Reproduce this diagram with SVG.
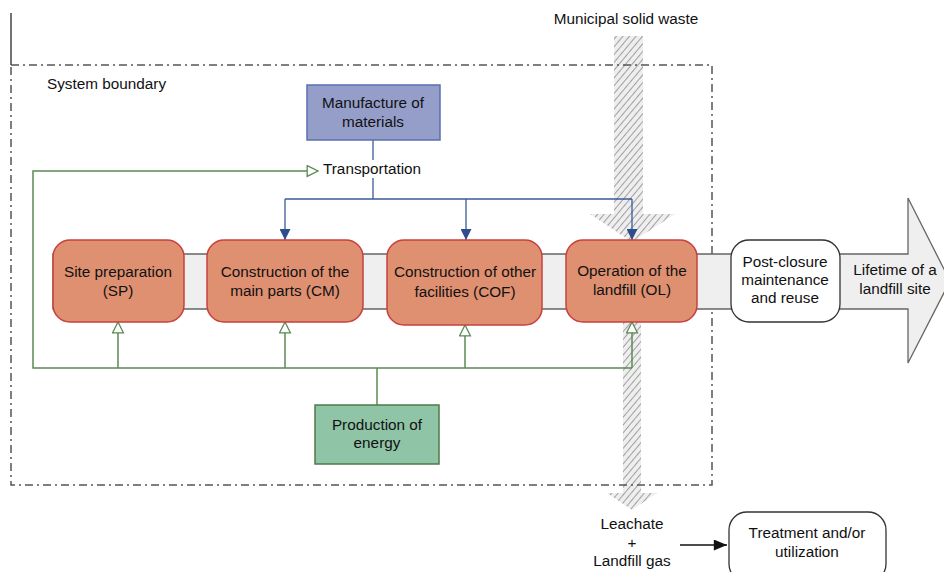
<svg xmlns="http://www.w3.org/2000/svg" width="944" height="572" viewBox="0 0 944 572">
<defs>
<pattern id="hatch" patternUnits="userSpaceOnUse" width="5" height="5" patternTransform="rotate(40)">
<rect width="5" height="5" fill="#eeeeee"/>
<line x1="0" y1="0" x2="0" y2="5" stroke="#8c8c8c" stroke-width="1.6"/>
</pattern>
<marker id="blueArrow" viewBox="0 0 10 10" refX="10" refY="5" markerWidth="11" markerHeight="11" markerUnits="userSpaceOnUse" orient="auto">
<path d="M0,0 L10,5 L0,10 z" fill="#2e4d8c"/>
</marker>
<marker id="greenArrow" viewBox="0 0 12 12" refX="11" refY="6" markerWidth="13" markerHeight="13" markerUnits="userSpaceOnUse" orient="auto">
<path d="M1,1 L11,6 L1,11 z" fill="#fff" stroke="#5b8a52" stroke-width="1.2"/>
</marker>
<marker id="blackArrow" viewBox="0 0 12 10" refX="12" refY="5" markerWidth="14" markerHeight="11" markerUnits="userSpaceOnUse" orient="auto">
<path d="M0,0 L12,5 L0,10 z" fill="#111"/>
</marker>
</defs>
<style>
text{font-family:"Liberation Sans",Arial,sans-serif;font-size:15.3px;fill:#111;text-anchor:middle}
.stage{fill:#de9070;stroke:#c9403f;stroke-width:1.5}
.white{fill:#fff;stroke:#333;stroke-width:1.3}
.blue{stroke:#3a5a9a;stroke-width:1.3;fill:none}
.green{stroke:#5b8a52;stroke-width:1.5;fill:none}
.boundary{fill:none;stroke:#555;stroke-width:1.5;stroke-dasharray:8 4 2 4}
</style>

<!-- hatched flows -->
<g id="msw-flow">
<path d="M614,36 L643,36 L643,214 L675,214 L632,242 L590,214 L614,214 z" fill="url(#hatch)"/>
<path d="M623,322 L641,322 L641,493 L657,493 L632,510 L607,493 L623,493 z" fill="url(#hatch)"/>
</g>

<!-- left solid line and boundary -->
<line x1="11" y1="13" x2="11" y2="65" stroke="#444" stroke-width="1.5"/>
<g id="system-boundary">
<rect x="11" y="65" width="701" height="420" class="boundary"/>
<text x="47" y="89" style="text-anchor:start">System boundary</text>
</g>

<!-- lifetime arrow -->
<g id="lifetime">
<path d="M53,254 L908,254 L908,198 L950,281 L908,363 L908,309 L53,309 z" fill="#efefef" stroke="#666" stroke-width="1.3"/>
<text x="895" y="275">Lifetime of a</text>
<text x="895" y="294">landfill site</text>
</g>

<g id="connectors">
<line class="blue" x1="373" y1="140" x2="373" y2="160"/>
<polyline class="blue" points="373,178 373,199"/>
<line class="blue" x1="285" y1="199" x2="632" y2="199"/>
<line class="blue" x1="285" y1="199" x2="285" y2="240" marker-end="url(#blueArrow)"/>
<line class="blue" x1="466" y1="199" x2="466" y2="240" marker-end="url(#blueArrow)"/>
<line class="blue" x1="632" y1="199" x2="632" y2="240" marker-end="url(#blueArrow)"/>
<line class="green" x1="377" y1="368" x2="377" y2="405"/>
<polyline class="green" points="632,368 33,368 33,171 318,171" marker-end="url(#greenArrow)"/>
<line class="green" x1="118" y1="368" x2="118" y2="322" marker-end="url(#greenArrow)"/>
<line class="green" x1="285" y1="368" x2="285" y2="322" marker-end="url(#greenArrow)"/>
<line class="green" x1="465" y1="368" x2="465" y2="325" marker-end="url(#greenArrow)"/>
<line class="green" x1="632" y1="368" x2="632" y2="322" marker-end="url(#greenArrow)"/>
<line x1="680" y1="545" x2="727" y2="545" stroke="#111" stroke-width="1.3" marker-end="url(#blackArrow)"/>
</g>

<g id="manufacture">
<rect x="307" y="85" width="133" height="55" fill="#959ec9" stroke="#5a6fb2" stroke-width="1.5"/>
<text x="373" y="108">Manufacture of</text>
<text x="373" y="127">materials</text>
</g>
<g id="transportation">
<text x="323" y="174" style="text-anchor:start">Transportation</text>
</g>

<g id="sp">
<rect class="stage" x="53" y="240" width="131" height="82" rx="17"/>
<text x="118" y="277">Site preparation</text>
<text x="118" y="296">(SP)</text>
</g>
<g id="cm">
<rect class="stage" x="207" y="240" width="156" height="82" rx="17"/>
<text x="285" y="277">Construction of the</text>
<text x="285" y="296">main parts (CM)</text>
</g>
<g id="cof">
<rect class="stage" x="387" y="240" width="155" height="85" rx="17"/>
<text x="465" y="277">Construction of other</text>
<text x="465" y="297">facilities (COF)</text>
</g>
<g id="ol">
<rect class="stage" x="566" y="240" width="131" height="82" rx="17"/>
<text x="632" y="276">Operation of the</text>
<text x="632" y="295">landfill (OL)</text>
</g>
<g id="post-closure">
<rect class="white" x="731" y="240" width="109" height="82" rx="18"/>
<text x="785" y="267">Post-closure</text>
<text x="785" y="285">maintenance</text>
<text x="785" y="303">and reuse</text>
</g>

<g id="production">
<rect x="315" y="405" width="124" height="59" fill="#8fc4a6" stroke="#4d7a48" stroke-width="1.5"/>
<text x="377" y="430">Production of</text>
<text x="377" y="448">energy</text>
</g>

<g id="msw-label">
<text x="626" y="24">Municipal solid waste</text>
</g>
<g id="leachate">
<text x="632" y="529">Leachate</text>
<text x="632" y="548">+</text>
<text x="632" y="566">Landfill gas</text>
</g>
<g id="treatment">
<rect class="white" x="729" y="512" width="157" height="70" rx="18"/>
<text x="807" y="538">Treatment and/or</text>
<text x="807" y="557">utilization</text>
</g>
</svg>
